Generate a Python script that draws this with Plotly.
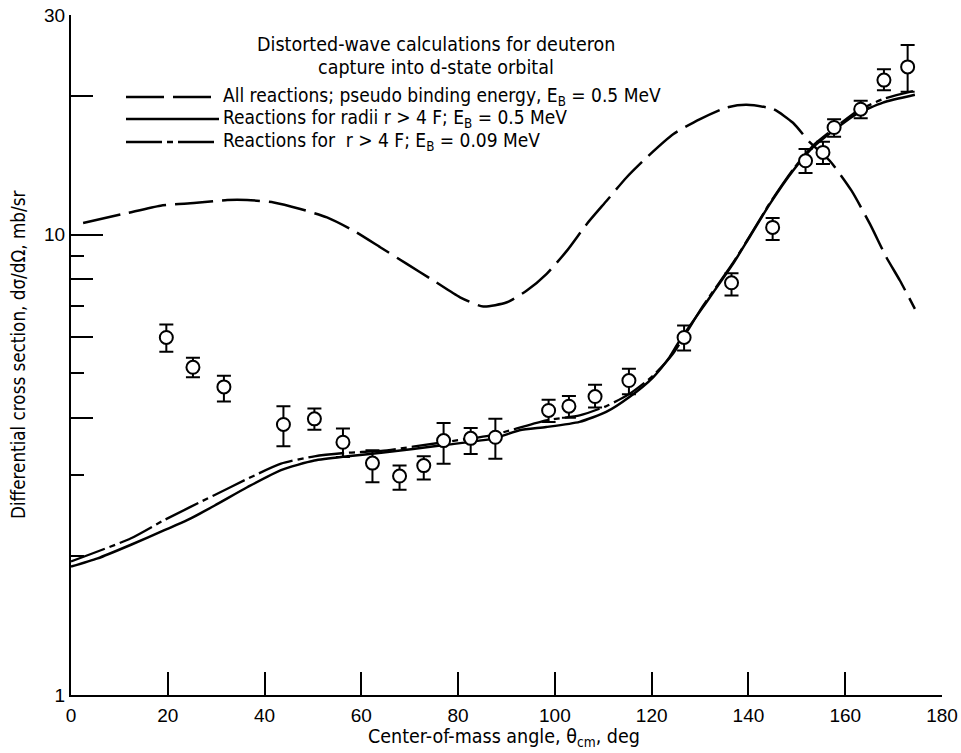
import math
import plotly.graph_objects as go

# ---------------- data ----------------
# Experimental points (angle in deg, cross section in mb/sr, error bar top / bottom)
exp_angle = [19.7, 25.2, 31.6, 43.9, 50.3, 56.2, 62.3, 67.9, 72.9, 77.0, 82.6, 87.7,
             98.7, 102.9, 108.3, 115.3, 126.7, 136.5, 145.0, 151.8, 155.4, 157.7,
             163.2, 168.0, 172.9]
exp_value = [5.98, 5.15, 4.67, 3.87, 3.98, 3.54, 3.19, 2.99, 3.15, 3.57, 3.61, 3.63,
             4.15, 4.24, 4.45, 4.82, 5.98, 7.86, 10.37, 14.47, 15.09, 17.09,
             18.73, 21.66, 23.14]
exp_upper = [6.38, 5.40, 4.94, 4.24, 4.19, 3.79, 3.40, 3.15, 3.30, 3.90, 3.80, 3.98,
             4.38, 4.46, 4.72, 5.11, 6.35, 8.24, 10.87, 15.34, 15.91, 17.82,
             19.53, 22.88, 25.83]
exp_lower = [5.57, 4.90, 4.34, 3.47, 3.77, 3.29, 2.90, 2.79, 2.94, 3.18, 3.34, 3.26,
             3.92, 4.00, 4.21, 4.50, 5.60, 7.38, 9.74, 13.61, 14.23, 16.32,
             17.91, 20.60, 20.43]

# All reactions; pseudo binding energy E_B = 0.5 MeV (long dashes)
all_angle = [2.5, 11.6, 18.5, 25.4, 32.3, 36.4, 41.9, 47.4, 52.9, 58.4, 63.9, 69.4,
             74.9, 80.4, 85.2, 90.1, 94.2, 98.3, 102.5, 106.6, 110.7, 114.8, 119.0,
             124.5, 130.0, 135.5, 139.6, 145.1, 149.2, 152.7, 156.8, 161.3, 165.1,
             168.5, 171.3, 174.4]
all_value = [10.6, 11.14, 11.56, 11.71, 11.89, 11.89, 11.75, 11.37, 10.90, 10.20, 9.39,
             8.64, 7.95, 7.31, 6.98, 7.13, 7.56, 8.22, 9.23, 10.55, 11.85, 13.31, 14.72,
             16.54, 17.82, 18.89, 19.14, 18.74, 17.5, 15.86, 14.47, 12.46, 10.55,
             8.93, 7.95, 6.90]

# Reactions for radii r > 4 F; E_B = 0.5 MeV (solid)
r4_angle = [0, 5.5, 12.4, 19.3, 24.1, 29.7, 36.5, 43.4, 50.3, 57.2, 64.1, 77.1, 87.5,
            92.7, 98.2, 105.1, 110.6, 115.4, 120.3, 123.7, 125.8, 130.6, 136.8, 140.2,
            144.4, 149.2, 153.3, 157.5, 162.3, 167.8, 174.4]
r4_value = [1.90, 1.98, 2.12, 2.28, 2.40, 2.58, 2.83, 3.08, 3.23, 3.30, 3.36, 3.49, 3.61,
            3.76, 3.82, 3.92, 4.12, 4.44, 4.90, 5.42, 5.89, 6.96, 8.64, 9.87,
            11.65, 13.77, 15.47, 16.81, 18.27, 19.36, 20.13]

# Reactions for r > 4 F; E_B = 0.09 MeV (dash-dot)
r4b_angle = [0, 12.4, 19.3, 29.7, 36.5, 43.4, 50.3, 57.2, 64.1, 77.0, 87.5, 98.2, 105.1,
             110.6, 115.4, 120.3, 124.4, 130.6, 136.8, 140.2, 144.4, 149.2, 153.3,
             157.5, 162.3, 167.8, 174.0]
r4b_value = [1.95, 2.19, 2.40, 2.72, 2.95, 3.18, 3.30, 3.36, 3.39, 3.54, 3.68, 3.95, 4.05,
             4.24, 4.51, 4.94, 5.51, 7.0, 8.68, 9.9, 11.7, 13.85, 15.6,
             16.95, 18.5, 19.7, 20.5]

x_tick_vals = [0, 20, 40, 60, 80, 100, 120, 140, 160, 180]
y_label_vals = [1, 10, 30]
y_label_text = ["1", "10", "30"]
y_short_ticks = [2, 3, 5, 7, 9]
y_mid_ticks = [4, 6, 8, 20]
y_long_ticks = [10]

legend_title = ["Distorted-wave calculations for deuteron", "capture into d-state orbital"]
legend_labels = [
    "All reactions; pseudo binding energy, E<sub>B</sub> = 0.5 MeV",
    "Reactions for radii r > 4 F; E<sub>B</sub> = 0.5 MeV",
    "Reactions for  r > 4 F; E<sub>B</sub> = 0.09 MeV",
]

# ---------------- styling ----------------
TEXT_FONT = "DejaVu Sans Condensed, Liberation Sans Narrow, sans-serif"
TICK_FONT = "Liberation Sans Narrow, Arial Narrow, sans-serif"
TXT = 19.5
W, H = 961, 753
L, R, T, B = 71, 19, 15, 58
PW, PH = W - L - R, H - T - B

DASH_LONG = "38px,9px"
DASH_DOT = "36px,5px,6px,5px"

def px_to_paper(px, py):
    return (px - L) / PW, (H - B - py) / PH

fig = go.Figure()

fig.add_trace(go.Scatter(x=all_angle, y=all_value, mode="lines",
                         line=dict(color="black", width=2.5, dash=DASH_LONG, shape="spline", smoothing=0.6),
                         showlegend=False, hoverinfo="skip"))
fig.add_trace(go.Scatter(x=r4_angle, y=r4_value, mode="lines",
                         line=dict(color="black", width=2.5, shape="spline", smoothing=0.6),
                         showlegend=False, hoverinfo="skip"))
fig.add_trace(go.Scatter(x=r4b_angle, y=r4b_value, mode="lines",
                         line=dict(color="black", width=2.3, dash=DASH_DOT, shape="spline", smoothing=0.6),
                         showlegend=False, hoverinfo="skip"))

err_plus = [u - v for u, v in zip(exp_upper, exp_value)]
err_minus = [v - l for v, l in zip(exp_value, exp_lower)]
fig.add_trace(go.Scatter(x=exp_angle, y=exp_value, mode="markers",
                         marker=dict(symbol="circle", size=13, color="white",
                                     line=dict(color="black", width=2)),
                         error_y=dict(type="data", symmetric=False, array=err_plus,
                                      arrayminus=err_minus, color="black",
                                      thickness=2, width=7),
                         showlegend=False))

# dummy traces so that tick-only overlay axes are drawn
fig.add_trace(go.Scatter(x=[None], y=[None], yaxis="y2", showlegend=False, hoverinfo="skip"))
fig.add_trace(go.Scatter(x=[None], y=[None], yaxis="y3", showlegend=False, hoverinfo="skip"))

yr = [0, math.log10(30)]
fig.update_layout(
    width=W, height=H,
    margin=dict(l=L, r=R, t=T, b=B, autoexpand=False),
    paper_bgcolor="white", plot_bgcolor="white",
    font=dict(family=TEXT_FONT, size=TXT, color="black"),
    xaxis=dict(range=[0, 180], tickvals=x_tick_vals, ticks="inside", ticklen=23,
               tickwidth=2, tickcolor="black", showgrid=False, zeroline=False,
               showline=True, linecolor="black", linewidth=2,
               tickfont=dict(family=TICK_FONT, size=19), ticklabelstandoff=2),
    yaxis=dict(type="log", range=yr, tickvals=y_label_vals, ticktext=y_label_text,
               ticks="inside", ticklen=13, tickwidth=2, tickcolor="black",
               showgrid=False, zeroline=False, showline=True, linecolor="black",
               linewidth=2, tickfont=dict(family=TICK_FONT, size=19),
               minor=dict(tickvals=y_short_ticks, ticks="inside", ticklen=13,
                          tickwidth=2, tickcolor="black", showgrid=False)),
    yaxis2=dict(type="log", range=yr, overlaying="y", side="left", tickvals=y_mid_ticks,
                ticks="inside", ticklen=22, tickwidth=2, tickcolor="black",
                showticklabels=False, showgrid=False, zeroline=False, showline=False),
    yaxis3=dict(type="log", range=yr, overlaying="y", side="left", tickvals=y_long_ticks,
                ticks="inside", ticklen=32, tickwidth=2, tickcolor="black",
                showticklabels=False, showgrid=False, zeroline=False, showline=False),
)

# axis titles
fig.add_annotation(text="Center-of-mass angle, θ<sub>cm</sub>, deg", xref="paper", yref="paper",
                   x=(504 - L) / PW, y=(H - B - 737) / PH, showarrow=False,
                   xanchor="center", yanchor="middle", font=dict(size=TXT))
fig.add_annotation(text="Differential cross section, dσ/dΩ, mb/sr", xref="paper", yref="paper",
                   x=(18 - L) / PW, y=(H - B - 355) / PH, showarrow=False, textangle=-90,
                   xanchor="center", yanchor="middle", font=dict(size=18.7))

# legend block
for txt, py in zip(legend_title, [45, 68]):
    x, y = px_to_paper(436, py)
    fig.add_annotation(text=txt, xref="paper", yref="paper", x=x, y=y, showarrow=False,
                       xanchor="center", yanchor="middle", font=dict(size=TXT))

row_y = [97, 119, 142]
row_dash = [DASH_LONG, "solid", DASH_DOT]
for txt, py, dash in zip(legend_labels, row_y, row_dash):
    x0, y0 = px_to_paper(126, py)
    x1, _ = px_to_paper(219, py)
    fig.add_shape(type="line", xref="paper", yref="paper", x0=x0, x1=x1, y0=y0, y1=y0,
                  line=dict(color="black", width=2.5, dash=dash))
    tx, ty = px_to_paper(221, py - 1)
    fig.add_annotation(text=txt, xref="paper", yref="paper", x=tx, y=ty, showarrow=False,
                       xanchor="left", yanchor="middle", font=dict(size=19))

fig.write_html("out.html", config={"displayModeBar": False},
               post_script="document.body.style.margin='0';document.body.style.overflow='hidden';")
